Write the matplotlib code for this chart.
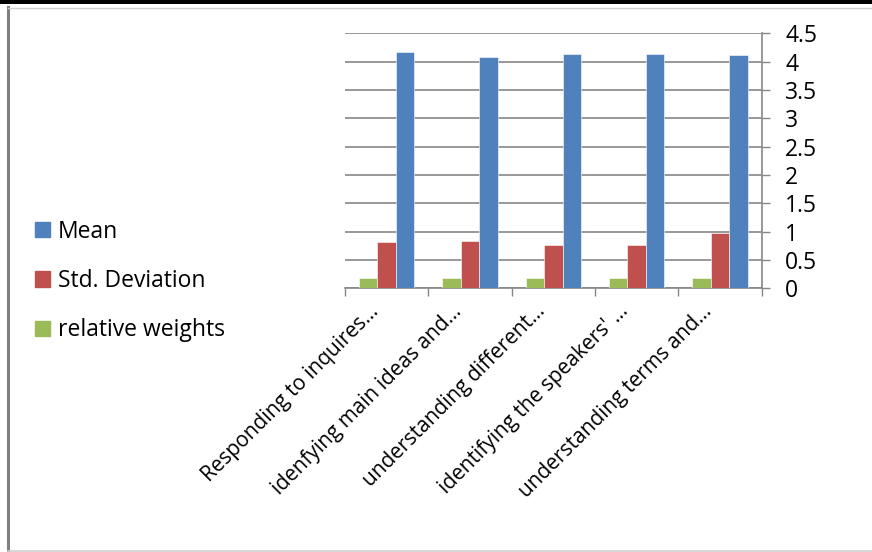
import matplotlib
matplotlib.use("Agg")
import matplotlib.pyplot as plt
from matplotlib.patches import Rectangle
from matplotlib.lines import Line2D
from matplotlib.transforms import ScaledTranslation
import numpy as np

plt.rcParams['font.family'] = ['Open Sans', 'DejaVu Sans']

categories = ["Responding to inquires…", "idenfying main ideas and…",
              "understanding different…", "identifying the speakers' …",
              "understanding terms and…"]
mean = [4.17, 4.09, 4.14, 4.14, 4.12]
std_dev = [0.81, 0.84, 0.77, 0.77, 0.97]
rel_weights = [0.19, 0.19, 0.19, 0.19, 0.19]

blue = '#4F81BD'
red = '#C0504D'
green = '#9BBB59'
grid_col = '#868686'
fs = 16.5

fig = plt.figure(figsize=(8.72, 5.52), dpi=100)
ax = fig.add_axes([345 / 872, 1 - 288.3 / 552, (761.7 - 345) / 872, (288.3 - 33.3) / 552])

x = np.arange(len(categories))
w = 0.222
ax.bar(x - w, rel_weights, w, color=green, edgecolor='white', linewidth=0.4, zorder=3)
ax.bar(x, std_dev, w, color=red, edgecolor='white', linewidth=0.4, zorder=3)
ax.bar(x + w, mean, w, color=blue, edgecolor='white', linewidth=0.4, zorder=3)

ax.set_xlim(-0.5, len(categories) - 0.5)
ax.set_ylim(0, 4.5)
ax.set_yticks(np.arange(0, 4.51, 0.5))
ax.set_yticklabels(['0', '0.5', '1', '1.5', '2', '2.5', '3', '3.5', '4', '4.5'])
ax.yaxis.tick_right()
ax.tick_params(axis='y', direction='out', length=6, width=1, color=grid_col,
               labelsize=fs, pad=11)
ax.grid(axis='y', color=grid_col, linewidth=1.2, zorder=0)

ax.set_xticks(x)
ax.set_xticklabels(categories, rotation=45, ha='right', rotation_mode='anchor',
                   fontsize=15)
ax.tick_params(axis='x', length=0, pad=9)
ax.set_xticks(np.arange(-0.5, len(categories), 1), minor=True)
ax.tick_params(axis='x', which='minor', direction='out', length=6, width=1, color=grid_col)
shift = ScaledTranslation(-19 / 100, 0, fig.dpi_scale_trans)
for lbl in ax.get_xticklabels():
    lbl.set_transform(lbl.get_transform() + shift)

for s in ['top', 'left']:
    ax.spines[s].set_visible(False)
ax.spines['bottom'].set_color(grid_col)
ax.spines['bottom'].set_linewidth(1.2)
ax.spines['right'].set_color(grid_col)
ax.spines['right'].set_linewidth(1.2)

handles = [Rectangle((0, 0), 1, 1, color=blue),
           Rectangle((0, 0), 1, 1, color=red),
           Rectangle((0, 0), 1, 1, color=green)]
fig.legend(handles, ['Mean', 'Std. Deviation', 'relative weights'],
           loc='center left', bbox_to_anchor=(14 / 872, 1 - 281 / 552),
           frameon=False, fontsize=fs, handlelength=0.65, handleheight=0.65,
           handletextpad=0.35, labelspacing=1.1)

# frame around the chart
fig.add_artist(Rectangle((0, 1 - 4 / 552), 1, 4 / 552, transform=fig.transFigure,
                         color='black', lw=0))
fig.add_artist(Line2D([8 / 872, 8 / 872], [1 - 7 / 552, 1 / 552], transform=fig.transFigure,
                      color='#808080', lw=2.2))
fig.add_artist(Line2D([8 / 872, 1], [1 - 8 / 552, 1 - 8 / 552], transform=fig.transFigure,
                      color='#D0D0D0', lw=1))
fig.add_artist(Line2D([8 / 872, 1], [1.5 / 552, 1.5 / 552], transform=fig.transFigure,
                      color='#D0D0D0', lw=1.2))

fig.savefig('out.png', dpi=100)
